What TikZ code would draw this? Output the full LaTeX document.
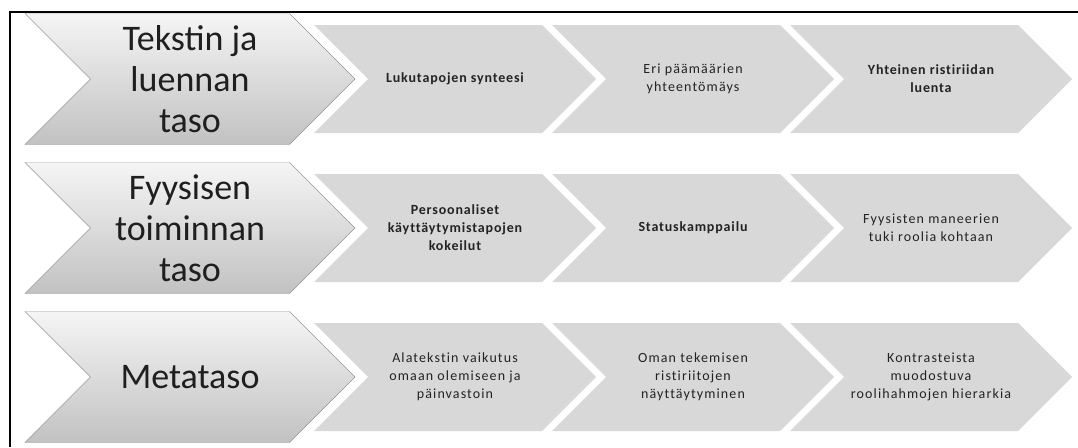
\documentclass[tikz,border=0pt]{standalone}
\usepackage{fontspec}
\setmainfont{Carlito}
\usepackage{tikz}
\usetikzlibrary{shapes.symbols}

\definecolor{chevfill}{RGB}{216,216,216}
\definecolor{chevline}{RGB}{150,150,150}
\definecolor{chevtext}{RGB}{35,35,35}

\tikzset{
    levelbox/.style={signal, signal to=east, signal from=west, signal pointer angle=90,
        minimum width=330pt, minimum height=131pt, inner sep=0pt, draw=chevline,
        top color=gray!8, bottom color=gray!48, text=black!88, align=center,
        font=\fontsize{36}{41}\selectfont},
    stagebox/.style={signal, signal to=east, signal from=west, signal pointer angle=90,
        minimum width=282pt, minimum height=108pt, inner sep=0pt, fill=chevfill,
        text=chevtext, align=center,
        font=\addfontfeatures{LetterSpace=8,Ligatures=NoCommon}\fontsize{14}{18}\selectfont},
    strong/.style={font=\addfontfeatures{LetterSpace=6,Ligatures=NoCommon}\fontsize{14}{18}\selectfont\bfseries}
}

\begin{document}
\begin{tikzpicture}[x=1pt, y=-1pt]
    \useasboundingbox (0, 0) rectangle (1078, 447);
    \draw[line width=2pt] (1078, 12) -- (10, 12) -- (10, 447);

    % first row
    \node[stagebox, strong] at (455, 79) (a1) {Lukutapojen synteesi};
    \node[stagebox] at (693, 79) (a2) {Eri päämäärien\\yhteentömäys};
    \node[stagebox, strong] at (931, 79) (a3) {Yhteinen ristiriidan\\luenta};
    \node[levelbox] at (190, 79) (text) {Tekstin ja\\luennan\\taso};

    % second row
    \node[stagebox, strong] at (455, 228) (b1) {Persoonaliset\\käyttäytymistapojen\\kokeilut};
    \node[stagebox, strong] at (693, 228) (b2) {Statuskamppailu};
    \node[stagebox] at (931, 228) (b3) {Fyysisten maneerien\\tuki roolia kohtaan};
    \node[levelbox] at (190, 228) (body) {Fyysisen\\toiminnan\\taso};

    % third row
    \node[stagebox] at (455, 377) (c1) {Alatekstin vaikutus\\omaan olemiseen ja\\päinvastoin};
    \node[stagebox] at (693, 377) (c2) {Oman tekemisen\\ristiriitojen\\näyttäytyminen};
    \node[stagebox] at (931, 377) (c3) {Kontrasteista\\muodostuva\\roolihahmojen hierarkia};
    \node[levelbox] at (190, 377) (meta) {Metataso};
\end{tikzpicture}
\end{document}
